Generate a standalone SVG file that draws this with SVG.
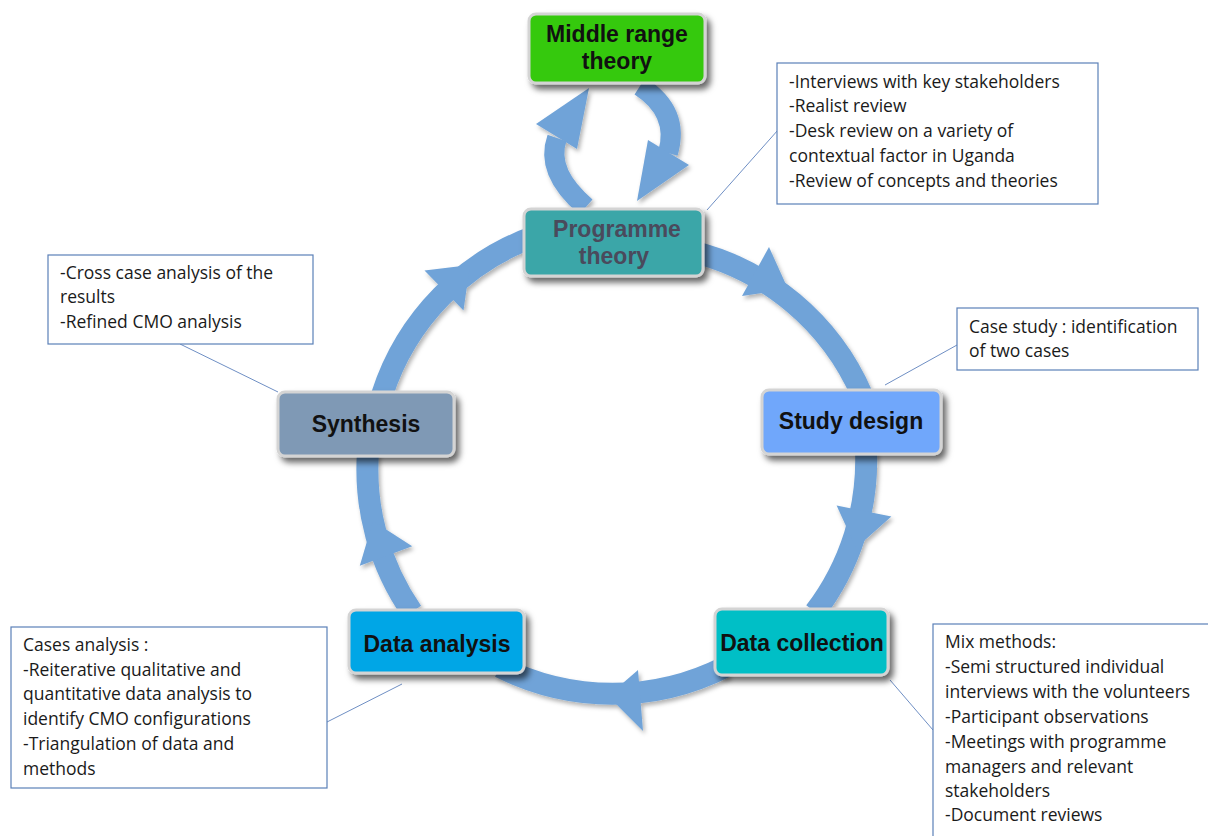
<svg xmlns="http://www.w3.org/2000/svg" width="1208" height="836" viewBox="0 0 1208 836">
<defs>
  <filter id="nodeShadow" x="-20%" y="-30%" width="140%" height="170%">
    <feDropShadow dx="4" dy="5" stdDeviation="3" flood-color="#000" flood-opacity="0.6"/>
  </filter>
  <filter id="ringShadow" x="-10%" y="-10%" width="120%" height="120%">
    <feDropShadow dx="2" dy="3" stdDeviation="2" flood-color="#000" flood-opacity="0.3"/>
  </filter>
  <style>
    .ring { fill: none; stroke: #70a3d8; stroke-width: 22; }
    .loop { fill: none; stroke: #70a3d8; stroke-width: 20; }
    .head { fill: #70a3d8; }
    .box { stroke: #d4d4d4; stroke-width: 3; }
    .lbl { font-family: "Liberation Sans", Arial, sans-serif; font-weight: bold; font-size: 23px; fill: #111; text-anchor: middle; }
    .note { fill: #fff; stroke: #5b80b8; stroke-width: 1.2; }
    .ntx { font-family: "Open Sans", "Noto Sans", sans-serif; font-size: 17.5px; fill: #1a1a1a; }
    .lead { stroke: #6f8fc4; stroke-width: 1; fill: none; }
  </style>
</defs>
<rect width="1208" height="836" fill="#fff"/>

<g id="connectors">
  <g filter="url(#ringShadow)">
    <path class="ring" d="M 690 251 A 250 250 0 0 1 862 395"/>
    <polygon class="head" points="769,247 788,289 742,296"/>
    <path class="ring" d="M 866 450 A 250 250 0 0 1 815 612"/>
    <polygon class="head" points="891.4,516.6 856,548 836.6,505.4"/>
    <path class="ring" d="M 725 667 A 250 250 0 0 1 500 667"/>
    <polygon class="head" points="643,731 608,696 638,670"/>
    <path class="ring" d="M 412 612 A 250 250 0 0 1 368 452"/>
    <polygon class="head" points="359.8,565.8 373,521 412.2,546.2"/>
    <path class="ring" d="M 382 395 A 250 250 0 0 1 540 234.4"/>
    <polygon class="head" points="424.5,270.5 470,265 463.5,310.5"/>
    <path class="loop" d="M 586 207 Q 545 172 557 138"/>
    <polygon class="head" points="536,124 577,149 589,88"/>
    <path class="loop" d="M 640 86 Q 680 112 668 153"/>
    <polygon class="head" points="648,140 689,165 637,201"/>
  </g>
  <line class="lead" x1="707" y1="210" x2="778" y2="130"/>
  <line class="lead" x1="885" y1="385" x2="957" y2="345"/>
  <line class="lead" x1="180" y1="344" x2="278" y2="392"/>
  <line class="lead" x1="327" y1="722" x2="402" y2="684"/>
  <line class="lead" x1="890" y1="680" x2="933" y2="730"/>
</g>

<g id="node-middle-range">
  <rect class="box" x="529" y="14" width="176" height="69" rx="7" fill="#35c90a" filter="url(#nodeShadow)"/>
  <text class="lbl" x="617" y="42">Middle range</text>
  <text class="lbl" x="617" y="69">theory</text>
</g>
<g id="node-programme">
  <rect class="box" x="524" y="209" width="179" height="67" rx="7" fill="#3ba6a8" filter="url(#nodeShadow)"/>
  <text class="lbl" x="617" y="237" style="fill:#4a4a5c">Programme</text>
  <text class="lbl" x="614" y="264" style="fill:#4a4a5c">theory</text>
</g>
<g id="node-study">
  <rect class="box" x="762" y="390" width="179" height="64" rx="7" fill="#70a7fb" filter="url(#nodeShadow)"/>
  <text class="lbl" x="851" y="429">Study design</text>
</g>
<g id="node-collection">
  <rect class="box" x="715" y="609" width="173" height="66" rx="7" fill="#00bfc6" filter="url(#nodeShadow)"/>
  <text class="lbl" x="802" y="651">Data collection</text>
</g>
<g id="node-analysis">
  <rect class="box" x="349" y="610" width="175" height="63" rx="7" fill="#00a6e6" filter="url(#nodeShadow)"/>
  <text class="lbl" x="437" y="652">Data analysis</text>
</g>
<g id="node-synthesis">
  <rect class="box" x="278" y="392" width="176" height="64" rx="7" fill="#7f99b5" filter="url(#nodeShadow)"/>
  <text class="lbl" x="366" y="432">Synthesis</text>
</g>

<g id="note-programme">
  <rect class="note" x="777" y="63" width="321" height="141"/>
  <text class="ntx" x="789" y="88">-Interviews with key stakeholders</text>
  <text class="ntx" x="789" y="112">-Realist review</text>
  <text class="ntx" x="789" y="137">-Desk review on a variety of</text>
  <text class="ntx" x="789" y="162">contextual factor in Uganda</text>
  <text class="ntx" x="789" y="187">-Review of concepts and theories</text>
</g>
<g id="note-study">
  <rect class="note" x="957" y="308" width="241" height="62"/>
  <text class="ntx" x="969" y="333">Case study : identification</text>
  <text class="ntx" x="969" y="357">of two cases</text>
</g>
<g id="note-synthesis">
  <rect class="note" x="48" y="255" width="265" height="89"/>
  <text class="ntx" x="60" y="279">-Cross case analysis of the</text>
  <text class="ntx" x="60" y="303">results</text>
  <text class="ntx" x="60" y="328">-Refined CMO analysis</text>
</g>
<g id="note-analysis">
  <rect class="note" x="11" y="627" width="316" height="161"/>
  <text class="ntx" x="23" y="651">Cases analysis :</text>
  <text class="ntx" x="23" y="676">-Reiterative qualitative and</text>
  <text class="ntx" x="23" y="700">quantitative data analysis to</text>
  <text class="ntx" x="23" y="725">identify CMO configurations</text>
  <text class="ntx" x="23" y="750">-Triangulation of data and</text>
  <text class="ntx" x="23" y="775">methods</text>
</g>
<g id="note-collection">
  <rect class="note" x="933" y="624" width="300" height="240"/>
  <text class="ntx" x="945" y="648">Mix methods:</text>
  <text class="ntx" x="945" y="673">-Semi structured individual</text>
  <text class="ntx" x="945" y="698">interviews with the volunteers</text>
  <text class="ntx" x="945" y="723">-Participant observations</text>
  <text class="ntx" x="945" y="748">-Meetings with programme</text>
  <text class="ntx" x="945" y="773">managers and relevant</text>
  <text class="ntx" x="945" y="797">stakeholders</text>
  <text class="ntx" x="945" y="821">-Document reviews</text>
</g>
</svg>
